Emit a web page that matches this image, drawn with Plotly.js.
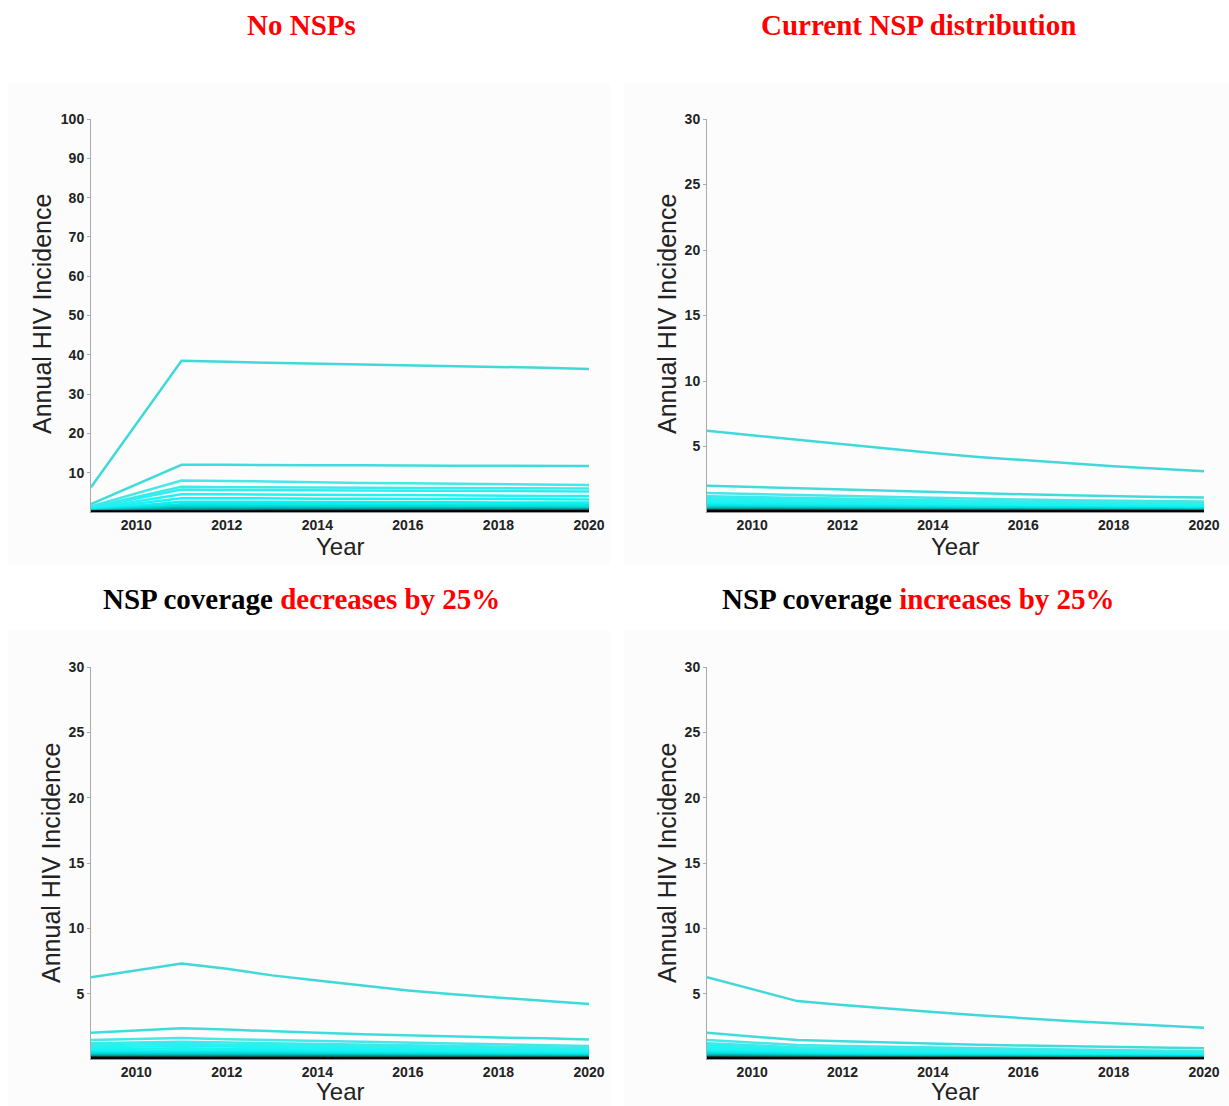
<!DOCTYPE html>
<html>
<head>
<meta charset="utf-8">
<script src="https://cdn.plot.ly/plotly-3.0.1.min.js"></script>
<style>html,body{margin:0;padding:0;background:#fff;}#chart{width:1229px;height:1106px;}</style>
</head>
<body>
<div id="chart"></div>
<script>
// Years of model output (2009, then annual from 2011)
const years = [2009, 2011, 2012, 2013, 2014, 2015, 2016, 2017, 2018, 2019, 2020];

// Panel titles
const panelTitles = [
  '<span style="color:#ff0000">No NSPs</span>',
  '<span style="color:#ff0000">Current NSP distribution</span>',
  'NSP coverage <span style="color:#ff0000">decreases by 25%</span>',
  'NSP coverage <span style="color:#ff0000">increases by 25%</span>'
];

// Axis tick values
const xTicks = [2010, 2012, 2014, 2016, 2018, 2020];
const yTicksNoNSP = [10, 20, 30, 40, 50, 60, 70, 80, 90, 100];
const yTicksOther = [5, 10, 15, 20, 25, 30];

// Annual HIV incidence, one row per simulated setting
const noNSP = [
  [6.3, 38.5, 38.2, 38.0, 37.7, 37.5, 37.3, 37.1, 36.9, 36.7, 36.4],
  [2.0, 12.0, 12.0, 11.9, 11.9, 11.9, 11.8, 11.8, 11.8, 11.7, 11.7],
  [1.45, 8.0, 7.9, 7.7, 7.6, 7.4, 7.3, 7.2, 7.1, 7.0, 6.9],
  [1.2, 6.4, 6.3, 6.3, 6.2, 6.2, 6.1, 6.1, 6.0, 6.0, 6.0],
  [1.05, 5.7, 5.6, 5.6, 5.5, 5.5, 5.4, 5.4, 5.3, 5.3, 5.2],
  [0.9, 4.5, 4.5, 4.4, 4.4, 4.3, 4.3, 4.2, 4.2, 4.1, 4.1],
  [0.75, 3.5, 3.5, 3.4, 3.4, 3.4, 3.3, 3.3, 3.3, 3.2, 3.2],
  [0.6, 2.6, 2.6, 2.6, 2.5, 2.5, 2.5, 2.5, 2.4, 2.4, 2.4],
  [0.5, 2.0, 2.0, 2.0, 2.0, 1.9, 1.9, 1.9, 1.9, 1.9, 1.9],
  [0.4, 1.5, 1.5, 1.5, 1.5, 1.5, 1.4, 1.4, 1.4, 1.4, 1.4],
  [0.3, 1.0, 1.0, 1.0, 1.0, 1.0, 0.95, 0.95, 0.9, 0.9, 0.9],
  [0.2, 0.6, 0.6, 0.6, 0.6, 0.58, 0.58, 0.57, 0.56, 0.55, 0.55],
  [0.12, 0.3, 0.3, 0.3, 0.3, 0.3, 0.3, 0.3, 0.3, 0.3, 0.3],
  [0.05, 0.1, 0.1, 0.1, 0.1, 0.1, 0.1, 0.1, 0.1, 0.1, 0.1]
];

const currentNSP = [
  [6.2, 5.5, 5.2, 4.85, 4.5, 4.2, 3.95, 3.7, 3.5, 3.3, 3.12],
  [2.0, 1.8, 1.7, 1.6, 1.5, 1.42, 1.35, 1.28, 1.2, 1.15, 1.1],
  [1.45, 1.3, 1.22, 1.14, 1.07, 1.0, 0.95, 0.9, 0.85, 0.82, 0.8],
  [1.2, 1.08, 1.0, 0.95, 0.9, 0.85, 0.8, 0.76, 0.72, 0.69, 0.66],
  [1.05, 0.95, 0.9, 0.85, 0.8, 0.75, 0.71, 0.67, 0.64, 0.61, 0.58],
  [0.9, 0.8, 0.76, 0.72, 0.68, 0.64, 0.6, 0.57, 0.54, 0.52, 0.5],
  [0.75, 0.67, 0.63, 0.6, 0.56, 0.53, 0.5, 0.48, 0.45, 0.43, 0.41],
  [0.6, 0.54, 0.5, 0.48, 0.45, 0.43, 0.4, 0.38, 0.36, 0.35, 0.33],
  [0.5, 0.45, 0.42, 0.4, 0.38, 0.36, 0.34, 0.32, 0.3, 0.29, 0.28],
  [0.4, 0.36, 0.34, 0.32, 0.3, 0.28, 0.27, 0.26, 0.24, 0.23, 0.22],
  [0.3, 0.27, 0.25, 0.24, 0.23, 0.22, 0.2, 0.19, 0.18, 0.17, 0.17],
  [0.2, 0.18, 0.17, 0.16, 0.15, 0.14, 0.14, 0.13, 0.12, 0.12, 0.11],
  [0.12, 0.11, 0.1, 0.1, 0.09, 0.09, 0.08, 0.08, 0.08, 0.07, 0.07],
  [0.05, 0.05, 0.04, 0.04, 0.04, 0.04, 0.04, 0.03, 0.03, 0.03, 0.03]
];

const decrease25 = [
  [6.25, 7.3, 6.9, 6.4, 6.0, 5.6, 5.25, 4.95, 4.7, 4.45, 4.2],
  [2.0, 2.35, 2.25, 2.1, 2.0, 1.9, 1.8, 1.72, 1.65, 1.58, 1.5],
  [1.45, 1.6, 1.52, 1.45, 1.38, 1.3, 1.23, 1.17, 1.1, 1.05, 1.0],
  [1.2, 1.32, 1.26, 1.2, 1.14, 1.08, 1.03, 0.98, 0.93, 0.89, 0.85],
  [1.05, 1.16, 1.1, 1.05, 1.0, 0.95, 0.9, 0.86, 0.82, 0.78, 0.75],
  [0.9, 1.0, 0.95, 0.9, 0.86, 0.82, 0.78, 0.74, 0.7, 0.67, 0.64],
  [0.75, 0.83, 0.79, 0.75, 0.71, 0.68, 0.65, 0.62, 0.59, 0.56, 0.53],
  [0.6, 0.66, 0.63, 0.6, 0.57, 0.54, 0.52, 0.5, 0.47, 0.45, 0.43],
  [0.5, 0.55, 0.52, 0.5, 0.48, 0.45, 0.43, 0.41, 0.39, 0.37, 0.35],
  [0.4, 0.44, 0.42, 0.4, 0.38, 0.36, 0.35, 0.33, 0.31, 0.3, 0.28],
  [0.3, 0.33, 0.31, 0.3, 0.29, 0.27, 0.26, 0.25, 0.24, 0.22, 0.21],
  [0.2, 0.22, 0.21, 0.2, 0.19, 0.18, 0.17, 0.17, 0.16, 0.15, 0.14],
  [0.12, 0.13, 0.12, 0.12, 0.11, 0.11, 0.1, 0.1, 0.1, 0.09, 0.09],
  [0.05, 0.05, 0.05, 0.05, 0.05, 0.04, 0.04, 0.04, 0.04, 0.04, 0.04]
];

const increase25 = [
  [6.25, 4.43, 4.13, 3.85, 3.6, 3.35, 3.1, 2.9, 2.73, 2.55, 2.4],
  [2.0, 1.45, 1.35, 1.25, 1.17, 1.1, 1.03, 0.97, 0.92, 0.87, 0.82],
  [1.45, 1.07, 1.0, 0.93, 0.87, 0.82, 0.77, 0.72, 0.68, 0.64, 0.6],
  [1.2, 0.9, 0.84, 0.79, 0.74, 0.7, 0.66, 0.62, 0.58, 0.55, 0.52],
  [1.05, 0.78, 0.73, 0.69, 0.65, 0.61, 0.57, 0.54, 0.51, 0.48, 0.45],
  [0.9, 0.67, 0.63, 0.59, 0.56, 0.52, 0.49, 0.46, 0.44, 0.41, 0.39],
  [0.75, 0.56, 0.52, 0.49, 0.46, 0.43, 0.41, 0.39, 0.37, 0.35, 0.33],
  [0.6, 0.45, 0.42, 0.4, 0.37, 0.35, 0.33, 0.31, 0.29, 0.28, 0.26],
  [0.5, 0.37, 0.35, 0.33, 0.31, 0.29, 0.27, 0.26, 0.24, 0.23, 0.22],
  [0.4, 0.3, 0.28, 0.26, 0.25, 0.23, 0.22, 0.21, 0.2, 0.19, 0.18],
  [0.3, 0.22, 0.21, 0.2, 0.19, 0.18, 0.17, 0.16, 0.15, 0.14, 0.13],
  [0.2, 0.15, 0.14, 0.13, 0.12, 0.12, 0.11, 0.1, 0.1, 0.09, 0.09],
  [0.12, 0.09, 0.08, 0.08, 0.07, 0.07, 0.07, 0.06, 0.06, 0.06, 0.05],
  [0.05, 0.04, 0.04, 0.04, 0.03, 0.03, 0.03, 0.03, 0.03, 0.02, 0.02]
];

// Line colours from top (cyan) to bottom (black)
const lineColors = ['#40d8d8', '#40dcdc', '#48e6e6', '#3ceaea', '#30eeee', '#22f2f2', '#18f4f4',
                    '#10f0f0', '#0ae8e8', '#08d8d8', '#06b8b8', '#058a8a', '#034848', '#000000'];
const lineWidths = [2.5, 2.5, 2.5, 2.5, 2.5, 2.5, 2.5, 2.5, 2.5, 2.5, 2.5, 2.5, 2.5, 3];

const panels = [noNSP, currentNSP, decrease25, increase25];
const axisIds = ['', '2', '3', '4'];

const traces = [];
panels.forEach((rows, p) => {
  rows.forEach((vals, i) => {
    traces.push({
      type: 'scatter', mode: 'lines',
      x: years, y: vals,
      xaxis: 'x' + axisIds[p], yaxis: 'y' + axisIds[p],
      line: {color: lineColors[i], width: lineWidths[i]},
      hoverinfo: 'skip', showlegend: false
    });
  });
});

const tickFont = {family: 'Liberation Sans, Arial, sans-serif', size: 14, color: '#222', weight: 'bold'};
function xAx(dom) {
  return {domain: dom, range: [2009, 2020], tickvals: xTicks, ticktext: xTicks.map(String),
    showgrid: false, zeroline: false, showline: true, linecolor: '#999', linewidth: 1,
    ticks: '', tickfont: tickFont, fixedrange: true};
}
function yAx(dom, rng, tv) {
  return {domain: dom, range: rng, tickvals: tv, ticktext: tv.map(String),
    showgrid: false, zeroline: false, showline: true, linecolor: '#aaa', linewidth: 1,
    ticks: 'outside', ticklen: 3, tickcolor: '#aaa', tickfont: tickFont, fixedrange: true};
}

const W = 1229, H = 1106;
const px = v => v / W, py = v => 1 - v / H;

const titleFont = {family: 'Liberation Serif, Times New Roman, serif', size: 29, color: '#000', weight: 'bold'};
const yTitleFont = {family: 'Liberation Sans, Arial, sans-serif', size: 25, color: '#222'};
const xTitleFont = {family: 'Liberation Sans, Arial, sans-serif', size: 24, color: '#222'};

const annotations = [];
const titlePos = [[301, 25], [918, 25], [301, 599], [918, 599]];
titlePos.forEach((pos, i) => annotations.push({
  xref: 'paper', yref: 'paper', x: px(pos[0]), y: py(pos[1]), xanchor: 'center', yanchor: 'middle',
  text: panelTitles[i], showarrow: false, font: titleFont
}));
const yTitlePos = [[42, 314], [667, 314], [51, 863], [667, 863]];
yTitlePos.forEach(pos => annotations.push({
  xref: 'paper', yref: 'paper', x: px(pos[0]), y: py(pos[1]), xanchor: 'center', yanchor: 'middle',
  text: 'Annual HIV Incidence', textangle: -90, showarrow: false, font: yTitleFont
}));
const xTitlePos = [[340, 546], [955, 546], [340, 1091], [955, 1091]];
xTitlePos.forEach(pos => annotations.push({
  xref: 'paper', yref: 'paper', x: px(pos[0]), y: py(pos[1]), xanchor: 'center', yanchor: 'middle',
  text: 'Year', showarrow: false, font: xTitleFont, borderpad: 0
}));

const bgRects = [[8, 83, 610, 565], [624, 83, 1229, 565], [8, 630, 610, 1106], [624, 630, 1229, 1106]];
const shapes = bgRects.map(r => ({
  type: 'rect', xref: 'paper', yref: 'paper', layer: 'below',
  x0: px(r[0]), x1: px(r[2]), y0: py(r[3]), y1: py(r[1]),
  fillcolor: '#fcfcfc', line: {width: 0}
}));

const topDom = [py(512), py(119)];
const botDom = [py(1059), py(667)];
const leftDom = [px(91), px(589)];
const rightDom = [px(707), px(1204)];

const layout = {
  width: W, height: H,
  margin: {l: 0, r: 0, t: 0, b: 0},
  paper_bgcolor: '#ffffff', plot_bgcolor: 'rgba(0,0,0,0)',
  showlegend: false,
  xaxis: Object.assign(xAx(leftDom), {anchor: 'y'}),
  yaxis: Object.assign(yAx(topDom, [0, 100], yTicksNoNSP), {anchor: 'x'}),
  xaxis2: Object.assign(xAx(rightDom), {anchor: 'y2'}),
  yaxis2: Object.assign(yAx(topDom, [0, 30], yTicksOther), {anchor: 'x2'}),
  xaxis3: Object.assign(xAx(leftDom), {anchor: 'y3'}),
  yaxis3: Object.assign(yAx(botDom, [0, 30], yTicksOther), {anchor: 'x3'}),
  xaxis4: Object.assign(xAx(rightDom), {anchor: 'y4'}),
  yaxis4: Object.assign(yAx(botDom, [0, 30], yTicksOther), {anchor: 'x4'}),
  annotations: annotations,
  shapes: shapes
};

Plotly.newPlot('chart', traces, layout, {displayModeBar: false, staticPlot: true});
</script>
</body>
</html>
